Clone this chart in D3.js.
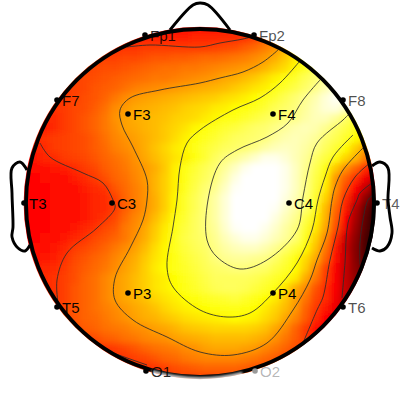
<!DOCTYPE html>
<html><head><meta charset="utf-8">
<script src="https://cdn.jsdelivr.net/npm/d3@7"></script>
<style>html,body{margin:0;padding:0;background:#fff}svg{display:block}</style>
</head><body><svg id="c" width="400" height="400"></svg>
<script>
// Electrodes in head units (nose up, radius about 87)
const electrodeNames = ["Fp1","Fp2","F7","F3","F4","F8","T3","C3","C4","T4","T5","P3","P4","T6","O1","O2"];
const electrodeX = [-27.5,27,-71.5,-36,36.5,71.5,-88,-44,44.5,88.5,-71.5,-36,36.5,71.5,-27,27.5];
const electrodeY = [84,84,51.5,44.5,44.5,51.5,0,0,0,0,-52,-45,-45,-52,-84,-84];
const labelTones = [0.85,0.7,0.9,1,1,0.7,1,1,1,0.65,0.95,1,1,0.7,0.85,0.3];

// Interpolated amplitude, percent of the colour range
const amplitude = [
[40,40,40,40,40,40,40,40,40,40,40,40,40,40,40,40,40,40,40,40,42,43,44,45,48,52,56,60,64,66,66,66,66,66,66,66],
[42,42,42,42,42,42,42,42,42,42,42,42,42,42,42,42,42,43,43,43,44,44,45,47,51,56,62,66,68,70,70,70,70,70,70,70],
[43,43,43,43,43,43,43,44,44,44,45,45,46,46,46,46,46,46,46,47,48,49,51,53,56,59,64,69,73,75,75,75,75,75,75,75],
[44,44,44,44,44,44,45,46,47,47,48,48,49,50,50,51,51,52,53,53,54,55,56,58,60,63,67,72,76,80,84,84,84,84,84,84],
[44,44,44,45,45,46,47,48,49,49,50,51,52,53,54,54,55,55,56,57,58,59,60,61,64,67,70,74,78,83,88,90,90,90,90,90],
[44,44,45,45,46,47,48,49,50,51,52,53,54,55,55,56,57,58,59,60,62,63,65,67,70,73,76,79,83,86,89,93,95,95,95,95],
[44,44,44,45,46,47,48,50,51,52,54,56,57,58,59,60,61,62,63,64,65,67,69,71,73,76,79,82,85,88,92,96,98,98,98,98],
[44,44,44,45,46,47,49,50,52,55,58,60,61,62,63,64,65,66,67,68,70,71,73,75,78,80,83,86,89,92,96,99,99,97,95,95],
[43,43,44,45,46,48,49,51,54,58,60,62,63,64,65,66,68,69,70,72,73,75,76,78,80,83,85,87,90,93,96,97,94,89,86,84],
[43,43,43,44,46,48,50,52,55,59,61,63,64,65,66,68,69,70,72,74,76,77,79,81,83,85,87,88,91,93,93,90,85,80,76,72],
[42,42,42,44,46,48,50,52,55,58,61,62,64,65,67,69,71,74,76,78,80,81,83,85,86,88,90,92,93,92,89,85,82,78,75,72],
[44,44,45,46,47,48,49,51,54,57,59,61,63,65,67,70,73,76,78,80,82,84,85,86,87,90,92,93,92,90,86,83,79,75,70,62],
[42,42,44,46,47,48,49,51,53,56,58,60,63,66,69,72,74,77,80,82,84,85,86,88,91,93,94,93,91,88,84,80,75,68,61,52],
[40,41,43,44,46,47,48,50,52,54,56,59,62,65,68,71,73,76,80,84,87,89,92,95,98,98,96,93,90,85,81,76,69,64,56,46],
[39,39,40,41,42,44,46,48,51,53,55,58,60,63,67,73,77,80,83,86,90,94,98,100,100,100,98,94,89,83,76,67,59,52,44,36],
[38,38,39,39,40,42,44,46,49,52,54,57,60,64,68,73,77,81,84,87,92,97,100,100,100,100,98,94,88,82,74,60,52,44,36,28],
[38,38,38,39,39,40,42,44,45,50,53,56,59,64,68,73,78,82,86,89,94,99,100,100,100,100,98,94,88,81,72,59,48,38,29,16],
[38,38,38,39,39,40,41,43,44,47,52,56,59,63,68,74,79,83,87,91,96,100,100,100,100,100,97,93,87,79,69,56,44,33,21,8],
[38,38,38,39,39,40,41,43,44,46,51,55,59,63,68,74,79,83,87,91,96,100,100,100,100,99,95,91,86,77,65,53,42,27,16,5],
[38,38,38,39,39,40,41,43,45,48,53,57,60,65,70,76,80,84,87,91,96,100,100,100,100,97,93,89,82,74,64,51,38,25,14,4],
[38,38,38,39,40,41,43,45,48,50,55,58,62,67,72,77,81,84,87,90,95,99,100,100,98,95,91,87,80,72,62,49,35,23,13,4],
[38,38,39,40,41,43,45,48,50,52,55,59,63,68,73,78,82,84,86,89,93,96,98,98,96,93,90,86,78,69,58,44,31,21,11,4],
[39,39,40,41,43,46,48,50,52,55,58,61,65,70,74,78,81,83,85,88,91,93,94,94,92,89,85,81,75,66,55,41,29,20,11,4],
[40,40,41,42,45,48,50,52,54,57,60,63,67,71,74,77,80,82,84,87,89,90,90,89,88,85,81,76,70,63,52,40,30,20,12,5],
[41,42,43,44,46,49,51,53,55,58,61,64,68,72,75,77,79,81,83,85,86,87,87,86,85,82,79,75,68,58,47,37,29,21,14,8],
[42,43,44,45,47,49,52,54,57,60,62,65,68,71,73,75,78,80,82,84,84,84,84,83,81,79,76,72,63,55,46,37,29,22,14,8],
[43,43,44,45,47,50,52,54,57,60,62,65,68,71,73,75,77,79,81,83,84,84,83,81,79,76,71,63,58,50,44,37,29,23,15,8],
[43,44,44,45,47,50,52,54,57,60,62,64,66,69,71,73,75,76,78,79,80,81,79,77,75,72,67,61,55,48,44,36,29,23,15,8],
[44,44,45,46,48,50,52,54,56,58,60,62,64,66,69,71,73,74,75,76,77,77,76,75,72,69,65,60,52,46,41,35,28,22,15,8],
[45,45,45,46,48,50,52,53,55,57,59,61,63,64,66,68,70,71,72,73,74,75,74,73,70,67,62,57,51,44,38,32,26,20,15,8],
[45,45,45,46,47,49,51,52,54,55,56,58,59,61,62,64,66,67,68,69,69,69,69,68,66,62,58,52,46,40,35,32,26,20,15,8],
[45,45,45,45,45,46,47,49,51,52,54,55,57,58,59,61,62,63,64,65,65,65,65,64,62,59,55,51,46,42,38,32,26,20,15,8],
[44,44,44,44,44,44,44,44,45,46,48,50,52,54,55,56,58,59,61,62,62,62,61,60,57,55,52,49,47,45,40,32,26,20,15,8],
[44,44,44,44,44,44,44,44,44,44,45,47,48,50,52,53,55,56,57,57,57,57,56,55,53,51,48,46,45,45,40,32,26,20,15,8],
[44,44,44,44,44,44,44,44,44,44,44,44,44,45,47,49,50,51,52,52,52,52,51,49,48,47,46,46,45,45,40,32,26,20,15,8],
[44,44,44,44,44,44,44,44,44,44,44,44,44,44,45,46,47,47,47,47,47,47,47,47,47,47,46,46,45,45,40,32,26,20,15,8]
];

// Iso-potential lines, head units
const contour90 = [[60,61.5],[51.5,51.5],[44,40],[33.5,33],[18.5,26.5],[10,20],[4,1.5],[3.5,-18.5],[8.5,-27],[20,-33],[33.5,-28.5],[48.5,-13.5],[51.5,3],[55,20],[58.5,30],[71.5,41.5],[74,44]];
const contour75 = [[49.5,70.5],[40,60],[30,52.5],[16.5,46.5],[0,36.5],[-6.5,30],[-10,18],[-11.5,1.5],[-13.5,-12],[-16.5,-32],[-13.5,-42],[0,-53.5],[13.5,-57],[25,-55],[36.5,-45],[48.5,-30],[56,-13.5],[59,1.5],[62.5,13],[66.5,23],[76.5,34]];
const contour60 = [[39,76.5],[31.5,70.5],[21.5,65.5],[10,62.5],[0,60],[-20,56.5],[-35,52.5],[-40,46.5],[-39,39],[-33.5,28],[-26.5,11.5],[-26.5,1.5],[-28.5,-8.5],[-35,-22.5],[-42.5,-37.5],[-42.5,-48.5],[-33.5,-58.5],[-16.5,-67],[0,-74.5],[16.5,-76],[33.5,-70],[46.5,-53.5],[55,-38.5],[58.5,-28.5],[63.5,-15],[66,1.5],[67.5,8],[71.5,16.5],[81.5,27.5]];
const contour45Top = [[-36.5,78],[-25,79],[0,78],[10,80],[21.5,82],[27.5,83.5]];
const contour45Left = [[-80,30],[-75,23],[-58.5,15],[-48.5,10],[-43.5,1.5],[-42.5,-2.5],[-51.5,-12.5],[-66.5,-25],[-71.5,-38.5],[-71,-50]];
const contour45Bottom = [[-43.5,-75],[-26.5,-81]];
const contour45Right = [[85,20],[77.5,13],[71.5,1.5],[69,-12],[65,-28.5],[61.5,-47],[58.5,-53.5],[51.5,-70]];
const contour30 = [[86,10],[80,5],[78.5,1.5],[74,-10],[72.5,-30],[71,-47.5]];
const contour15 = [[86.5,4],[84,1.5],[81.5,-8.5],[80,-20],[80,-31]];
const contours = [contour90,contour75,contour60,contour45Top,contour45Left,contour45Bottom,contour45Right,contour30,contour15];

// Head furniture, head units
const nose = [[-15,86.5],[-3.5,99],[0,100],[4,99],[15,86.5]];
const leftEar = [[-86.5,16.5],[-90,20.5],[-94,17.5],[-94,5],[-93.5,-12],[-94,-17],[-91,-22.5],[-87.5,-24],[-85,-21]];
const rightEar = [[86,18.5],[90,20.5],[94,17.5],[94,1.5],[95,-7],[96,-15],[93.5,-22],[90,-24],[86,-22.5]];
const headRadius = 87;
// Part of the outline that fades out at the chin, degrees clockwise from the nose
const fadedArc = [166,196];

const svg = d3.select("#c");
const x = d3.scaleLinear().domain([-100,100]).range([0,400]);
const y = d3.scaleLinear().domain([-100,100]).range([403,3]);
const hot = d3.scaleLinear().domain([0,37.5,75,100]).range(["#000000","#ff0000","#ffff00","#ffffff"]).clamp(true);

const colBand = d3.scaleBand().domain(d3.range(amplitude[0].length)).range([x(-90),x(90)]);
const rowBand = d3.scaleBand().domain(d3.range(amplitude.length)).range([y(90),y(-90)]);
const radiusPx = x(headRadius)-x(0);

const defs = svg.append("defs");
defs.append("clipPath").attr("id","disk").append("circle")
  .attr("cx",x(-0.1)).attr("cy",y(0)).attr("r",x(headRadius+1.1)-x(0));
const f = defs.append("filter").attr("id","soft").attr("x","-5%").attr("y","-5%").attr("width","110%").attr("height","110%");
f.append("feGaussianBlur").attr("stdDeviation",3);
const f2 = defs.append("filter").attr("id","smear").attr("x","-30%").attr("y","-200%").attr("width","160%").attr("height","500%");
f2.append("feGaussianBlur").attr("stdDeviation",1.2);

const disk = svg.append("g").attr("clip-path","url(#disk)");
disk.append("g").attr("filter","url(#soft)")
  .selectAll("g").data(amplitude).join("g")
  .attr("transform",(d,i)=>`translate(0,${rowBand(i)})`)
  .selectAll("rect").data(d=>d).join("rect")
  .attr("x",(d,i)=>colBand(i)).attr("width",colBand.bandwidth()+.5)
  .attr("height",rowBand.bandwidth()+.5).attr("fill",d=>hot(d));

const smooth = d3.line().x(d=>x(d[0])).y(d=>y(d[1])).curve(d3.curveCatmullRom.alpha(0.5));
svg.append("g").selectAll("path").data(contours).join("path")
  .attr("d",smooth).attr("fill","none").attr("stroke","#2c2c2c").attr("stroke-width",0.85);

const furniture = svg.append("g").attr("fill","none").attr("stroke","#000").attr("stroke-width",2.9).attr("stroke-linejoin","round");
furniture.selectAll("path").data([nose,leftEar,rightEar]).join("path").attr("d",smooth);
furniture.append("circle").attr("cx",x(0)).attr("cy",y(0)).attr("r",radiusPx).attr("stroke-width",3.8);

const fade = d3.arc().innerRadius(radiusPx-0.2).outerRadius(radiusPx+3.5)
  .startAngle(fadedArc[0]*Math.PI/180).endAngle(fadedArc[1]*Math.PI/180);
svg.append("path").attr("d",fade()).attr("transform",`translate(${x(0)},${y(0)})`)
  .attr("fill","#fff").attr("fill-opacity",0.75).attr("filter","url(#smear)");

const marks = svg.append("g").selectAll("g").data(electrodeNames).join("g")
  .attr("transform",(d,i)=>`translate(${x(electrodeX[i])},${y(electrodeY[i])})`);
marks.append("circle").attr("r",2.8).attr("fill",d=>d==="O2"?"#999":"#000");
marks.append("text").attr("x",5).attr("y",5.5)
  .attr("font-family","Liberation Sans, Arial, sans-serif").attr("font-size",15)
  .attr("fill","#000").attr("fill-opacity",(d,i)=>labelTones[i])
  .text(d=>d);
</script></body></html>
